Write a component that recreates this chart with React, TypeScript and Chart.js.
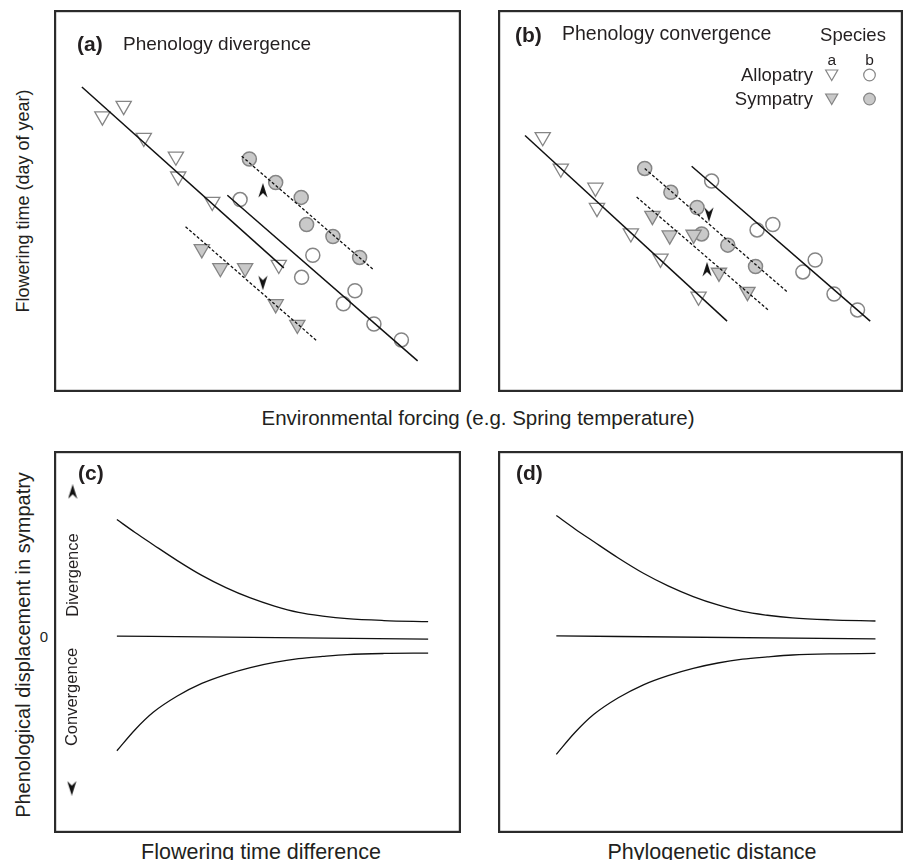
import React, { useEffect, useRef } from "react";
import { Chart, registerables } from "chart.js";

Chart.register(...registerables);

type P = [number, number];

// ---------- Panel (a): phenology divergence (normalised 0-100 units) ----------
const aAllopatryA: P[] = [[9.9, 73.4], [15.4, 76.3], [20.6, 67.5], [28.9, 62.3], [29.5, 56.8], [38.3, 49.8], [55.5, 32.4]];
const aSympatryA: P[] = [[35.6, 36.7], [40.4, 31.5], [46.8, 31.5], [54.7, 21.5], [60.3, 15.8]];
const aAllopatryB: P[] = [[45.5, 50.4], [64.3, 35.0], [61.4, 28.9], [75.2, 25.2], [72.2, 21.6], [80.1, 16.0], [87.2, 11.6]];
const aSympatryB: P[] = [[47.9, 61.6], [54.7, 55.1], [61.3, 51.0], [62.7, 43.5], [69.5, 40.2], [76.4, 34.4]];
const aFitAllopatryA: P[] = [[4.6, 81.5], [56.8, 31.5]];
const aFitAllopatryB: P[] = [[42.2, 51.6], [91.4, 5.8]];
const aFitSympatryB: P[] = [[45.9, 62.4], [80.1, 30.9]];
const aFitSympatryA: P[] = [[31.4, 42.9], [65.4, 11.3]];
const aArrowUp: P[] = [[51.4, 52.9]];
const aArrowDown: P[] = [[51.4, 27.4]];

// ---------- Panel (b): phenology convergence ----------
const bAllopatryA: P[] = [[9.0, 67.7], [13.7, 59.0], [22.7, 53.7], [23.1, 48.1], [31.9, 41.1], [39.6, 34.1], [49.5, 23.6]];
const bSympatryA: P[] = [[37.5, 45.9], [42.0, 40.5], [48.2, 40.7], [54.8, 30.2], [62.2, 24.9]];
const bSympatryB: P[] = [[35.5, 59.0], [42.3, 52.4], [49.1, 48.2], [50.3, 40.9], [57.1, 37.8], [64.3, 31.9]];
const bAllopatryB: P[] = [[52.9, 55.5], [64.7, 42.0], [68.8, 43.5], [79.8, 33.7], [76.6, 30.4], [84.7, 24.3], [90.8, 19.9]];
const bFitAllopatryA: P[] = [[4.4, 68.1], [56.9, 16.8]];
const bFitAllopatryB: P[] = [[47.7, 59.6], [94.1, 16.8]];
const bFitSympatryB: P[] = [[35.5, 59.0], [72.5, 24.9]];
const bFitSympatryA: P[] = [[33.4, 51.1], [67.8, 19.7]];
const bArrowDown: P[] = [[52.2, 46.3]];
const bArrowUp: P[] = [[51.7, 31.1]];

// ---------- Panels (c) and (d): displacement curves ----------
const curveDivergence: P[] = [
  [14.4, 83.1], [19.0, 79.6], [23.6, 76.3], [29.7, 72.0], [35.9, 68.0], [42.0, 64.7], [48.2, 61.9],
  [54.3, 59.7], [60.4, 58.0], [66.5, 57.0], [72.7, 56.3], [82.0, 55.8], [93.2, 55.5],
];
const curveNeutral: P[] = [[14.4, 51.6], [93.2, 50.8]];
const curveConvergence: P[] = [
  [14.4, 20.6], [19.0, 26.3], [23.6, 31.0], [29.7, 35.4], [35.9, 38.8], [42.0, 41.2], [48.2, 43.1],
  [54.3, 44.5], [60.4, 45.5], [66.5, 46.1], [72.7, 46.6], [82.0, 46.9], [93.2, 47.0],
];
const cArrowUp: P[] = [[3.2, 90.6]];
const cArrowDown: P[] = [[3.0, 10.5]];

const FONT = '"Liberation Sans", Arial, Helvetica, sans-serif';
const INK = "#231f20";
const MARK_EDGE = "#858585";
const MARK_FILL = "#c9c9c9";

const xy = (arr: P[]) => arr.map(([x, y]) => ({ x, y }));

function makeArrowImage(): HTMLCanvasElement {
  const c = document.createElement("canvas");
  c.width = 10;
  c.height = 15;
  const g = c.getContext("2d")!;
  g.fillStyle = "#111";
  g.beginPath();
  g.moveTo(5, 0);
  g.lineTo(9.6, 14.5);
  g.lineTo(5, 10);
  g.lineTo(0.4, 14.5);
  g.closePath();
  g.fill();
  return c;
}

const solid = (pts: P[]) => ({
  data: xy(pts),
  showLine: true,
  pointRadius: 0,
  borderColor: "#111",
  borderWidth: 1.5,
});
const dashed = (pts: P[]) => ({
  data: xy(pts),
  showLine: true,
  pointRadius: 0,
  borderColor: "#111",
  borderWidth: 1.3,
  borderDash: [3, 2],
});
const curve = (pts: P[]) => ({
  data: xy(pts),
  showLine: true,
  pointRadius: 0,
  borderColor: "#111",
  borderWidth: 1.3,
  cubicInterpolationMode: "monotone",
});
const triangles = (pts: P[], filled: boolean) => ({
  data: xy(pts),
  showLine: false,
  pointStyle: "triangle",
  pointRotation: 180,
  pointRadius: 8.8,
  pointBorderWidth: 1.3,
  pointBorderColor: MARK_EDGE,
  pointBackgroundColor: filled ? MARK_FILL : "#fff",
});
const circles = (pts: P[], filled: boolean) => ({
  data: xy(pts),
  showLine: false,
  pointStyle: "circle",
  pointRadius: 7,
  pointBorderWidth: 1.5,
  pointBorderColor: MARK_EDGE,
  pointBackgroundColor: filled ? MARK_FILL : "#fff",
});
const arrows = (pts: P[], img: HTMLCanvasElement, down: boolean) => ({
  data: xy(pts),
  showLine: false,
  pointStyle: img,
  pointRadius: 5,
  pointRotation: down ? 180 : 0,
});

const boxPlugin = {
  id: "boxBorder",
  afterDraw(chart: any) {
    const { ctx, width, height } = chart;
    ctx.save();
    ctx.strokeStyle = "#2b2b2b";
    ctx.lineWidth = 2.2;
    ctx.strokeRect(1.1, 1.1, width - 2.2, height - 2.2);
    ctx.restore();
  },
};

// legend markers of panel (b), positioned in canvas pixels
const legendPlugin = {
  id: "speciesLegend",
  afterDraw(chart: any) {
    const ctx = chart.ctx as CanvasRenderingContext2D;
    const rows = [
      { y: 63.5, fill: "#fff" },
      { y: 87.5, fill: MARK_FILL },
    ];
    ctx.save();
    ctx.strokeStyle = MARK_EDGE;
    ctx.lineWidth = 1.2;
    for (const r of rows) {
      const tx = 333.7;
      const rr = 7;
      ctx.beginPath();
      ctx.moveTo(tx, r.y + rr);
      ctx.lineTo(tx - rr * 0.866, r.y - rr / 2);
      ctx.lineTo(tx + rr * 0.866, r.y - rr / 2);
      ctx.closePath();
      ctx.fillStyle = r.fill;
      ctx.fill();
      ctx.stroke();
      ctx.beginPath();
      ctx.arc(371.5, r.y + 1.5, 5.8, 0, Math.PI * 2);
      ctx.fill();
      ctx.stroke();
    }
    ctx.restore();
  },
};

function Panel(props: { left: number; top: number; width: number; height: number; build: () => any[]; extra?: any[] }) {
  const ref = useRef<HTMLCanvasElement>(null);
  useEffect(() => {
    const chart = new Chart(ref.current!, {
      type: "scatter",
      data: { datasets: props.build() as any },
      options: {
        responsive: false,
        animation: false,
        events: [],
        layout: { padding: 0 },
        scales: {
          x: { type: "linear", min: 0, max: 100, display: false },
          y: { type: "linear", min: 0, max: 100, display: false },
        },
        plugins: { legend: { display: false }, tooltip: { enabled: false } },
      } as any,
      plugins: [boxPlugin, ...(props.extra || [])],
    });
    return () => chart.destroy();
  }, []);
  return (
    <canvas
      ref={ref}
      width={props.width}
      height={props.height}
      style={{ position: "absolute", left: props.left, top: props.top, width: props.width, height: props.height }}
    />
  );
}

function T(props: {
  x: number;
  y: number;
  size: number;
  bold?: boolean;
  rot?: boolean;
  align?: "left" | "center" | "right";
  children: React.ReactNode;
}) {
  const align = props.align || "center";
  const tx = align === "left" ? "0%" : align === "right" ? "-100%" : "-50%";
  return (
    <div
      style={{
        position: "absolute",
        left: props.x,
        top: props.y,
        transform: `translate(${tx}, -50%)${props.rot ? " rotate(-90deg)" : ""}`,
        transformOrigin: props.rot ? "center center" : undefined,
        fontFamily: FONT,
        fontSize: props.size,
        fontWeight: props.bold ? 700 : 400,
        lineHeight: 1,
        whiteSpace: "nowrap",
        color: INK,
      }}
    >
      {props.children}
    </div>
  );
}

export default function App() {
  const arrow = useRef<HTMLCanvasElement | null>(null);
  if (!arrow.current) arrow.current = makeArrowImage();
  const img = arrow.current;

  const buildA = () => [
    solid(aFitAllopatryA),
    solid(aFitAllopatryB),
    dashed(aFitSympatryB),
    dashed(aFitSympatryA),
    arrows(aArrowUp, img, false),
    arrows(aArrowDown, img, true),
    triangles(aAllopatryA, false),
    triangles(aSympatryA, true),
    circles(aAllopatryB, false),
    circles(aSympatryB, true),
  ];
  const buildB = () => [
    solid(bFitAllopatryA),
    solid(bFitAllopatryB),
    dashed(bFitSympatryB),
    dashed(bFitSympatryA),
    arrows(bArrowDown, img, true),
    arrows(bArrowUp, img, false),
    triangles(bAllopatryA, false),
    triangles(bSympatryA, true),
    circles(bSympatryB, true),
    circles(bAllopatryB, false),
  ];
  const buildC = () => [
    curve(curveDivergence),
    curve(curveNeutral),
    curve(curveConvergence),
    arrows(cArrowUp, img, false),
    arrows(cArrowDown, img, true),
  ];
  const buildD = () => [curve(curveDivergence), curve(curveNeutral), curve(curveConvergence)];

  return (
    <div
      style={{
        position: "absolute",
        left: 0,
        top: 0,
        width: 907,
        height: 860,
        overflow: "hidden",
        background: "#fff",
      }}
    >
      <Panel left={54} top={10} width={407} height={382} build={buildA} />
      <Panel left={498} top={10} width={405} height={382} build={buildB} extra={[legendPlugin]} />
      <Panel left={54} top={451} width={407} height={382} build={buildC} />
      <Panel left={498} top={451} width={405} height={382} build={buildD} />

      {/* panel titles */}
      <T x={77} y={43} size={21} bold align="left">(a)</T>
      <T x={123} y={43} size={19} align="left">Phenology divergence</T>
      <T x={515} y={34} size={21} bold align="left">(b)</T>
      <T x={562} y={34} size={19.5} align="left">Phenology convergence</T>
      <T x={78} y={472} size={21} bold align="left">(c)</T>
      <T x={516} y={472} size={21} bold align="left">(d)</T>

      {/* legend text */}
      <T x={853} y={35} size={18.5}>Species</T>
      <T x={831.7} y={60} size={15.5}>a</T>
      <T x={869.5} y={60} size={15.5}>b</T>
      <T x={813} y={75} size={18.5} align="right">Allopatry</T>
      <T x={813} y={98.5} size={18.5} align="right">Sympatry</T>

      {/* axis labels */}
      <T x={23} y={201} size={18} rot>Flowering time (day of year)</T>
      <T x={478} y={418} size={20.5}>Environmental forcing (e.g. Spring temperature)</T>
      <T x={23} y={645} size={20} rot>Phenological displacement in sympatry</T>
      <T x={44} y={636} size={15}>0</T>
      <T x={72} y={575} size={16.5} rot>Divergence</T>
      <T x={71} y={697} size={16.5} rot>Convergence</T>
      <T x={261} y={853} size={21.5}>Flowering time difference</T>
      <T x={712} y={853} size={21.5}>Phylogenetic distance</T>
    </div>
  );
}
